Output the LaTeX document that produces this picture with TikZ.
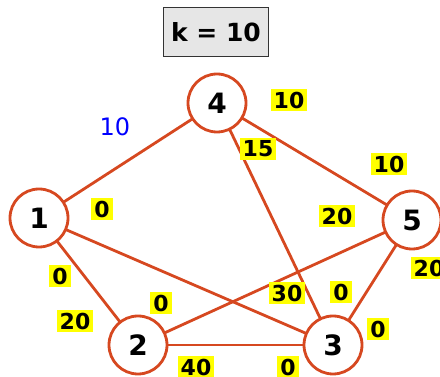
\documentclass[tikz,border=0pt]{standalone}
\usepackage{fontspec}
\setmainfont{DejaVu Sans}
\usetikzlibrary{positioning}
\definecolor{edgeRed}{RGB}{214,72,32}
\definecolor{tagYellow}{RGB}{255,255,0}
\definecolor{boxGray}{RGB}{230,230,230}

\begin{document}
\begin{tikzpicture}[x=1pt, y=-1pt,
  vertex/.style={circle, draw=edgeRed, line width=2.8pt, fill=white, minimum size=58pt,
                 inner sep=0pt, font=\bfseries\fontsize{28}{28}\selectfont},
  weight/.style={fill=tagYellow, inner xsep=3pt, inner ysep=2.5pt,
                 font=\bfseries\fontsize{22}{22}\selectfont},
  link/.style={draw=edgeRed, line width=2.8pt}]
  \useasboundingbox (0,0) rectangle (440,377);
  \node[draw=black!80, fill=boxGray, line width=1.2pt, minimum width=105pt, minimum height=49pt,
        font=\bfseries\fontsize{25}{25}\selectfont] (title) at (216,32) {k = 10};
  % edges first, vertices on top
  \coordinate (p4) at (217,103);
  \coordinate (p1) at (39,218);
  \coordinate (p5) at (412,220);
  \coordinate (p2) at (138,345);
  \coordinate (p3) at (333,345);
  \draw[link] (p1) -- (p4);
  \draw[link] (p4) -- (p5);
  \draw[link] (p4) -- (p3);
  \draw[link] (p1) -- (p3);
  \draw[link] (p1) -- (p2);
  \draw[link] (p2) -- (p5);
  \draw[link] (p2) -- (p3);
  \draw[link] (p5) -- (p3);
  % vertices
  \node[vertex] (v4) at (p4) {4};
  \node[vertex] (v1) at (p1) {1};
  \node[vertex] (v5) at (p5) {5};
  \node[vertex] (v2) at (p2) {2};
  \node[vertex] (v3) at (p3) {3};
  % weights
  \node[text=blue, font=\fontsize{24}{24}\selectfont] (w14) at (115,127) {10};
  \node[weight] (w45a) at (289,100) {10};
  \node[weight] (w43) at (258,149) {15};
  \node[weight] (w45b) at (389,164) {10};
  \node[weight] (w13a) at (102,209) {0};
  \node[weight] (w52) at (337,216) {20};
  \node[weight] (w53) at (429,268) {20};
  \node[weight] (w12a) at (60,276) {0};
  \node[weight] (w12b) at (75,321) {20};
  \node[weight] (w25) at (161,303) {0};
  \node[weight] (w13b) at (287,293) {30};
  \node[weight] (w34) at (341,292) {0};
  \node[weight] (w35) at (378,329) {0};
  \node[weight] (w23a) at (196,367) {40};
  \node[weight] (w23b) at (288,367) {0};
\end{tikzpicture}
\end{document}
